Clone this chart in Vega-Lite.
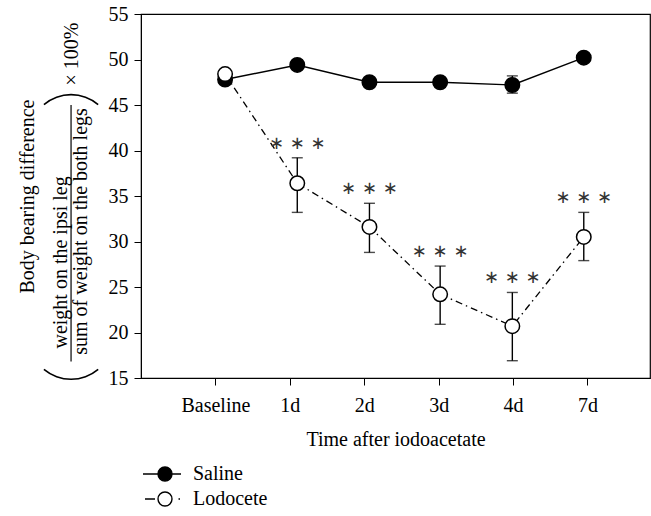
{
  "$schema": "https://vega.github.io/schema/vega-lite/v6.json",
  "width": 509,
  "height": 364,
  "autosize": {"type": "none"},
  "padding": {"left": 141, "top": 14, "right": 1, "bottom": 138},
  "background": "white",
  "config": {
    "font": "Liberation Serif",
    "view": {"stroke": "black", "strokeWidth": 1.2},
    "axis": {
      "labelFont": "Liberation Serif",
      "labelFontSize": 20,
      "labelColor": "black",
      "titleFont": "Liberation Serif",
      "titleFontSize": 20,
      "titleFontWeight": "normal",
      "titleColor": "black",
      "domainColor": "black",
      "tickColor": "black",
      "tickSize": 7,
      "grid": false
    },
    "legend": {
      "labelFont": "Liberation Serif",
      "labelFontSize": 20,
      "labelColor": "black"
    }
  },
  "data": {
    "values": [
      {"series": "Saline", "time": "Baseline", "t": 0.13, "mean": 47.8, "lo": 47.4, "hi": 48.2},
      {"series": "Saline", "time": "1d", "t": 1.1, "mean": 49.4, "lo": 49.0, "hi": 49.8},
      {"series": "Saline", "time": "2d", "t": 2.07, "mean": 47.5, "lo": 47.1, "hi": 47.9},
      {"series": "Saline", "time": "3d", "t": 3.02, "mean": 47.5, "lo": 47.1, "hi": 47.9},
      {"series": "Saline", "time": "4d", "t": 3.99, "mean": 47.2, "lo": 46.3, "hi": 48.2},
      {"series": "Saline", "time": "7d", "t": 4.95, "mean": 50.2, "lo": 49.8, "hi": 50.6},
      {"series": "Lodocete", "time": "Baseline", "t": 0.13, "mean": 48.4, "lo": 48.0, "hi": 48.8},
      {"series": "Lodocete", "time": "1d", "t": 1.1, "mean": 36.4, "lo": 33.2, "hi": 39.2, "sig": "***"},
      {"series": "Lodocete", "time": "2d", "t": 2.07, "mean": 31.6, "lo": 28.8, "hi": 34.2, "sig": "***"},
      {"series": "Lodocete", "time": "3d", "t": 3.02, "mean": 24.2, "lo": 20.9, "hi": 27.3, "sig": "***"},
      {"series": "Lodocete", "time": "4d", "t": 3.99, "mean": 20.7, "lo": 16.9, "hi": 24.4, "sig": "***"},
      {"series": "Lodocete", "time": "7d", "t": 4.95, "mean": 30.5, "lo": 27.9, "hi": 33.2, "sig": "***"}
    ]
  },
  "layer": [
    {
      "mark": {"type": "rule", "color": "black", "strokeWidth": 1.4},
      "encoding": {
        "x": {"field": "t", "type": "quantitative",
          "scale": {"domain": [-1, 5.84], "nice": false, "zero": false},
          "axis": {"values": [0, 1, 2, 3, 4, 5],
            "labelExpr": "['Baseline','1d','2d','3d','4d','7d'][datum.value]",
            "title": "Time after iodoacetate", "labelPadding": 10, "titlePadding": 14}},
        "y": {"field": "lo", "type": "quantitative",
          "scale": {"domain": [15, 55], "nice": false, "zero": false},
          "axis": {"values": [15, 20, 25, 30, 35, 40, 45, 50, 55],
            "title": "Body bearing difference", "labelPadding": 6,
            "titleX": -114, "titleAngle": 270, "titleAlign": "center", "titleBaseline": "middle"}},
        "y2": {"field": "hi"}
      }
    },
    {
      "mark": {"type": "tick", "orient": "horizontal", "color": "black", "size": 11, "thickness": 1.4},
      "encoding": {
        "x": {"field": "t", "type": "quantitative"},
        "y": {"field": "lo", "type": "quantitative"}
      }
    },
    {
      "mark": {"type": "tick", "orient": "horizontal", "color": "black", "size": 11, "thickness": 1.4},
      "encoding": {
        "x": {"field": "t", "type": "quantitative"},
        "y": {"field": "hi", "type": "quantitative"}
      }
    },
    {
      "transform": [{"filter": "datum.series === 'Saline'"}],
      "mark": {"type": "line", "color": "black", "strokeWidth": 1.4},
      "encoding": {
        "x": {"field": "t", "type": "quantitative"},
        "y": {"field": "mean", "type": "quantitative"}
      }
    },
    {
      "transform": [{"filter": "datum.series === 'Lodocete'"}],
      "mark": {"type": "line", "color": "black", "strokeWidth": 1.3, "strokeDash": [7, 4, 1.5, 4]},
      "encoding": {
        "x": {"field": "t", "type": "quantitative"},
        "y": {"field": "mean", "type": "quantitative"}
      }
    },
    {
      "mark": {"type": "circle", "stroke": "black", "strokeWidth": 1.5, "size": 210, "opacity": 1},
      "encoding": {
        "x": {"field": "t", "type": "quantitative"},
        "y": {"field": "mean", "type": "quantitative"},
        "fill": {"field": "series", "type": "nominal",
          "scale": {"domain": ["Saline", "Lodocete"], "range": ["black", "white"]},
          "legend": {
            "title": null,
            "orient": "none",
            "legendX": 13,
            "legendY": 449,
            "padding": 0,
            "rowPadding": 4,
            "labelOffset": 17,
            "symbolSize": 400,
            "symbolStrokeColor": "black",
            "symbolStrokeWidth": 1.4
          }
        }
      }
    },
    {
      "transform": [{"filter": "false"}],
      "mark": {"type": "point", "filled": true, "size": 400, "stroke": "black", "strokeWidth": 1.4, "opacity": 1},
      "encoding": {
        "x": {"field": "t", "type": "quantitative"},
        "y": {"field": "mean", "type": "quantitative"},
        "shape": {"field": "series", "type": "nominal",
          "scale": {"domain": ["Saline", "Lodocete"],
            "range": ["M-2.2,0L-0.7,0M0.7,0L1.6,0M-0.7,0A0.7,0.7,0,1,1,0.7,0A0.7,0.7,0,1,1,-0.7,0Z",
                      "M-2.0,0L-1.0,0M1.35,0L1.5,0M-0.7,0A0.7,0.7,0,1,1,0.7,0A0.7,0.7,0,1,1,-0.7,0Z"]},
          "legend": {
            "title": null,
            "orient": "none",
            "legendX": 13,
            "legendY": 449,
            "padding": 0,
            "rowPadding": 4,
            "labelOffset": 17,
            "symbolSize": 400,
            "symbolStrokeColor": "black",
            "symbolStrokeWidth": 1.4
          }
        }
      }
    },
    {
      "transform": [{"filter": "datum.sig"}],
      "mark": {"type": "text", "text": "∗ ∗ ∗", "font": "DejaVu Sans", "fontSize": 18, "color": "#333", "baseline": "middle", "align": "center", "yOffset": -14},
      "encoding": {
        "x": {"field": "t", "type": "quantitative"},
        "y": {"field": "hi", "type": "quantitative"}
      }
    },
    {
      "data": {"values": [{}]},
      "mark": {"type": "text", "text": "weight on the ipsi leg", "angle": 270, "fontSize": 20, "align": "center", "baseline": "middle", "color": "black"},
      "encoding": {"x": {"datum": -2.07, "type": "quantitative"}, "y": {"datum": 27.7, "type": "quantitative"}}
    },
    {
      "data": {"values": [{}]},
      "mark": {"type": "text", "text": "sum of weight on the both legs", "angle": 270, "fontSize": 20, "align": "center", "baseline": "middle", "color": "black"},
      "encoding": {"x": {"datum": -1.8, "type": "quantitative"}, "y": {"datum": 31.1, "type": "quantitative"}}
    },
    {
      "data": {"values": [{}]},
      "mark": {"type": "text", "text": "× 100%", "angle": 270, "fontSize": 20, "align": "center", "baseline": "middle", "color": "black"},
      "encoding": {"x": {"datum": -1.93, "type": "quantitative"}, "y": {"datum": 50.6, "type": "quantitative"}}
    },
    {
      "data": {"values": [{}]},
      "mark": {"type": "rule", "color": "black", "strokeWidth": 1.2},
      "encoding": {"x": {"datum": -1.94, "type": "quantitative"}, "y": {"datum": 45.0, "type": "quantitative"}, "y2": {"datum": 16.8}}
    },
    {
      "data": {"values": [{}]},
      "mark": {"type": "arc", "color": "black", "radius": 43, "radius2": 41.4, "theta": 2.443, "theta2": 3.84},
      "encoding": {"x": {"datum": -1.94, "type": "quantitative"}, "y": {"datum": 19.5, "type": "quantitative"}}
    },
    {
      "data": {"values": [{}]},
      "mark": {"type": "arc", "color": "black", "radius": 43, "radius2": 41.4, "theta": -0.698, "theta2": 0.698},
      "encoding": {"x": {"datum": -1.94, "type": "quantitative"}, "y": {"datum": 41.5, "type": "quantitative"}}
    }
  ]
}
